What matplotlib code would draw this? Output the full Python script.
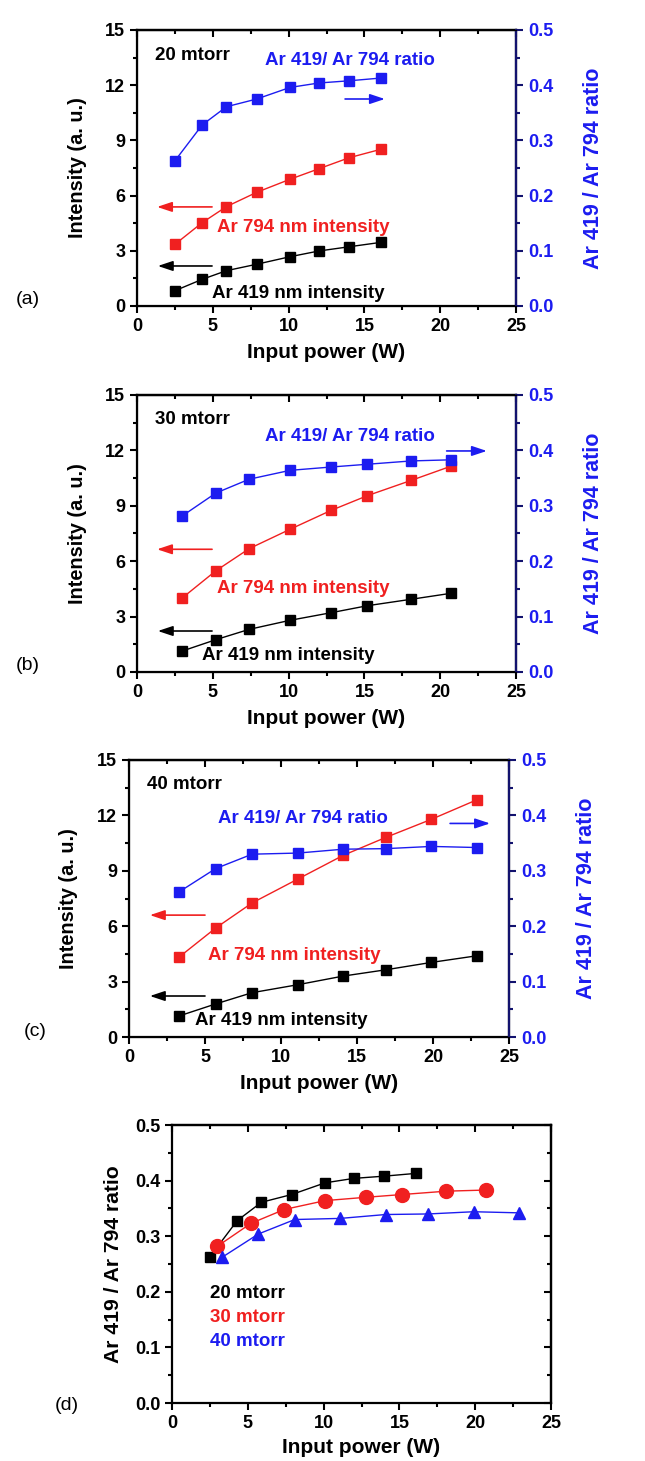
import matplotlib
matplotlib.use("Agg")
import matplotlib.pyplot as plt
from matplotlib.ticker import MultipleLocator

plt.rcParams['font.family'] = ['Liberation Sans', 'DejaVu Sans']
plt.rcParams['font.weight'] = 'bold'

# input power (W) for each pressure
power_20 = [2.5, 4.3, 5.9, 7.9, 10.1, 12.0, 14.0, 16.1]
power_30 = [3.0, 5.2, 7.4, 10.1, 12.8, 15.2, 18.1, 20.7]
power_40 = [3.3, 5.7, 8.1, 11.1, 14.1, 16.9, 19.9, 22.9]

# Ar 794 nm intensity (a. u.)
i794_20 = [3.35, 4.53, 5.40, 6.18, 6.89, 7.46, 8.06, 8.52]
i794_30 = [4.02, 5.48, 6.68, 7.73, 8.75, 9.55, 10.38, 11.14]
i794_40 = [4.33, 5.90, 7.26, 8.55, 9.84, 10.81, 11.79, 12.85]

# Ar 419 nm intensity (a. u.)
i419_20 = [0.83, 1.45, 1.92, 2.27, 2.68, 2.99, 3.22, 3.46]
i419_30 = [1.14, 1.75, 2.31, 2.80, 3.21, 3.59, 3.94, 4.26]
i419_40 = [1.14, 1.79, 2.40, 2.83, 3.30, 3.64, 4.04, 4.40]

# Ar 419 / Ar 794 ratio
ratio_20 = [0.263, 0.328, 0.361, 0.375, 0.396, 0.404, 0.408, 0.413]
ratio_30 = [0.282, 0.323, 0.348, 0.364, 0.370, 0.375, 0.381, 0.383]
ratio_40 = [0.262, 0.304, 0.330, 0.332, 0.339, 0.340, 0.344, 0.342]

W, H = 645, 1461
BLUE = '#1c1cf0'
NAVY = '#12126e'
RED = '#f02020'
TICK_FS = 13
TXT_FS = 13.5

fig = plt.figure(figsize=(W / 100, H / 100), dpi=100)


def px_axes(x0, y0, x1, y1):
    return fig.add_axes([x0 / W, 1 - y1 / H, (x1 - x0) / W, (y1 - y0) / H])


def style_x(ax, label_top):
    ax.set_xlim(0, 25)
    ax.xaxis.set_major_locator(MultipleLocator(5))
    ax.xaxis.set_minor_locator(MultipleLocator(2.5))
    ax.tick_params(axis='x', which='major', length=5, width=1.5, labelsize=TICK_FS)
    ax.tick_params(axis='x', which='minor', length=3, width=1.5)
    ax.set_xlabel('Input power (W)', fontsize=15, fontweight='bold')
    ax.xaxis.set_label_coords(0.5, label_top)
    # mirrored ticks pointing inwards on the top spine
    top = ax.secondary_xaxis('top')
    top.xaxis.set_major_locator(MultipleLocator(5))
    top.xaxis.set_minor_locator(MultipleLocator(2.5))
    top.tick_params(which='major', direction='in', length=5, width=1.5,
                    labeltop=False)
    top.tick_params(which='minor', direction='in', length=3, width=1.5)
    for sp in ax.spines.values():
        sp.set_linewidth(1.6)
    top.spines['top'].set_linewidth(1.6)


def intensity_panel(box, p, i794, i419, ratio, label, txt):
    ax = px_axes(*box)
    style_x(ax, -0.134)
    ax.set_ylim(0, 15)
    ax.yaxis.set_major_locator(MultipleLocator(3))
    ax.yaxis.set_minor_locator(MultipleLocator(1.5))
    ax.tick_params(axis='y', which='major', length=5, width=1.5, labelsize=TICK_FS)
    ax.tick_params(axis='y', which='minor', length=3, width=1.5)
    ax.set_ylabel('Intensity (a. u.)', fontsize=14.3, fontweight='bold')
    ax.yaxis.set_label_coords(-0.133, 0.5)

    ax.plot(p, i794, '-s', color=RED, lw=1, ms=7, zorder=3)
    ax.plot(p, i419, '-s', color='black', lw=1, ms=7, zorder=3)

    ax2 = ax.twinx()
    ax2.set_ylim(0, 0.5)
    ax2.yaxis.set_major_locator(MultipleLocator(0.1))
    ax2.yaxis.set_minor_locator(MultipleLocator(0.05))
    ax2.yaxis.set_major_formatter(plt.FormatStrFormatter('%.1f'))
    ax2.tick_params(axis='y', which='major', length=5, width=1.5,
                    labelsize=TICK_FS, colors=NAVY, labelcolor=BLUE)
    ax2.tick_params(axis='y', which='minor', length=3, width=1.5, colors=NAVY)
    ax2.spines['right'].set_color(NAVY)
    ax2.spines['right'].set_linewidth(1.6)
    ax2.set_ylabel('Ar 419 / Ar 794 ratio', fontsize=15.5,
                   fontweight='bold', color=BLUE)
    ax2.yaxis.set_label_coords(1.176, 0.5)
    ax2.plot(p, ratio, '-s', color=BLUE, lw=1, ms=7, zorder=3)

    ax.text(*txt['title'], label, transform=ax.transAxes,
            fontsize=TXT_FS, fontweight='bold', va='center')
    ax.text(*txt['blue'], 'Ar 419/ Ar 794 ratio', transform=ax.transAxes,
            fontsize=TXT_FS, fontweight='bold', va='center', color=BLUE)
    ax.text(*txt['red'], 'Ar 794 nm intensity', transform=ax.transAxes,
            fontsize=TXT_FS, fontweight='bold', va='center', color=RED)
    ax.text(*txt['black'], 'Ar 419 nm intensity', transform=ax.transAxes,
            fontsize=TXT_FS, fontweight='bold', va='center', color='black')
    for key, col in [('arr_blue', BLUE), ('arr_red', RED), ('arr_black', 'black')]:
        x0, x1, y = txt[key]
        ax.annotate('', xy=(x1, y), xytext=(x0, y), xycoords='axes fraction',
                    arrowprops=dict(arrowstyle='-|>,head_length=0.9,head_width=0.3',
                                    color=col, lw=1.2, mutation_scale=10,
                                    shrinkA=0, shrinkB=0))
    return ax


intensity_panel((137, 30, 516, 306), power_20, i794_20, i419_20, ratio_20,
                '20 mtorr',
                dict(title=(0.047, 0.909), blue=(0.338, 0.891),
                     red=(0.211, 0.286), black=(0.198, 0.047),
                     arr_blue=(0.549, 0.654, 0.75),
                     arr_red=(0.198, 0.053, 0.359),
                     arr_black=(0.198, 0.055, 0.145)))
intensity_panel((137, 395, 516, 672), power_30, i794_30, i419_30, ratio_30,
                '30 mtorr',
                dict(title=(0.047, 0.91), blue=(0.338, 0.85),
                     red=(0.21, 0.30), black=(0.171, 0.061),
                     arr_blue=(0.817, 0.923, 0.798),
                     arr_red=(0.198, 0.053, 0.443),
                     arr_black=(0.198, 0.055, 0.148)))
intensity_panel((129, 760, 509, 1037), power_40, i794_40, i419_40, ratio_40,
                '40 mtorr',
                dict(title=(0.047, 0.91), blue=(0.235, 0.79),
                     red=(0.209, 0.296), black=(0.174, 0.061),
                     arr_blue=(0.845, 0.95, 0.771),
                     arr_red=(0.2, 0.055, 0.44),
                     arr_black=(0.2, 0.055, 0.148)))

# panel (d): ratio comparison
axd = px_axes(172, 1125, 551, 1403)
style_x(axd, -0.126)
axd.set_ylim(0, 0.5)
axd.yaxis.set_major_locator(MultipleLocator(0.1))
axd.yaxis.set_minor_locator(MultipleLocator(0.05))
axd.yaxis.set_major_formatter(plt.FormatStrFormatter('%.1f'))
axd.tick_params(axis='y', which='major', length=5, width=1.5, labelsize=TICK_FS)
axd.tick_params(axis='y', which='minor', length=3, width=1.5)
right = axd.secondary_yaxis('right')
right.yaxis.set_major_locator(MultipleLocator(0.1))
right.yaxis.set_minor_locator(MultipleLocator(0.05))
right.tick_params(which='major', direction='in', length=5, width=1.5,
                  labelright=False)
right.tick_params(which='minor', direction='in', length=3, width=1.5)
right.spines['right'].set_linewidth(1.6)
axd.set_ylabel('Ar 419 / Ar 794 ratio', fontsize=15.2, fontweight='bold')
axd.yaxis.set_label_coords(-0.129, 0.5)
axd.plot(power_20, ratio_20, '-s', color='black', lw=1, ms=7, zorder=3)
axd.plot(power_30, ratio_30, '-o', color=RED, lw=1, ms=10, zorder=3)
axd.plot(power_40, ratio_40, '-^', color=BLUE, lw=1, ms=9, zorder=3)
for lab, col, y in [('20 mtorr', 'black', 0.395), ('30 mtorr', RED, 0.307),
                    ('40 mtorr', BLUE, 0.22)]:
    axd.text(0.1, y, lab, color=col, transform=axd.transAxes, fontsize=TXT_FS,
             fontweight='bold', va='center')

for lab, x, y in [('(a)', 28, 299), ('(b)', 28, 665), ('(c)', 35, 1031),
                  ('(d)', 67, 1405)]:
    fig.text(x / W, 1 - y / H, lab, fontsize=14, fontweight='normal',
             ha='center', va='center')

fig.savefig('out.png', dpi=100)
